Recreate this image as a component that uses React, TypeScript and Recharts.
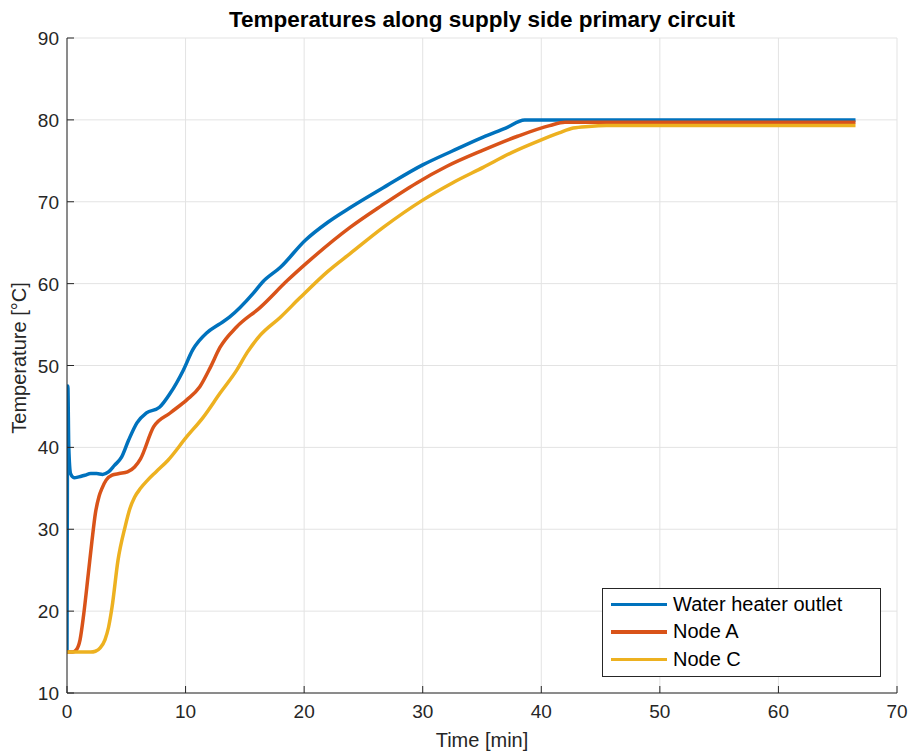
import React from 'react';
import { LineChart, Line, XAxis, YAxis, CartesianGrid, Legend } from 'recharts';

// time [min] and temperatures [°C]
const outletTime = [0, 0.07, 0.15, 0.3, 0.6, 1.0, 1.5, 2.0, 2.5, 3.0, 3.5, 4.0, 4.6, 5.2, 5.9, 6.7, 7.8, 8.7, 9.8, 10.6, 11.8, 12.8, 13.7, 15.7, 16.5, 18, 20.1, 22, 23.9, 27, 30, 32.5, 35.1, 37, 38.6, 45, 55, 66.5];
const outletTemp = [15, 47.5, 40, 36.8, 36.3, 36.4, 36.6, 36.8, 36.8, 36.7, 37.0, 37.8, 38.8, 40.9, 43, 44.2, 44.9, 46.6, 49.4, 51.9, 54, 55, 55.9, 58.8, 60.2, 62, 65.3, 67.5, 69.3, 72, 74.5, 76.2, 77.9, 79, 80, 80, 80, 80];

const nodeATime = [0, 0.5, 0.8, 1.1, 1.4, 1.8, 2.1, 2.4, 2.7, 2.95, 3.3, 3.8, 4.4, 5.1, 5.7, 6.2, 7.3, 8.7, 10.1, 11.2, 12.1, 12.9, 14.3, 16.3, 18.6, 20.2, 23.9, 26.5, 29.5, 32, 35.1, 38, 40.7, 42, 45, 55, 66.5];
const nodeATemp = [15, 15, 15.3, 16.5, 19.5, 24.6, 28.5, 32, 34, 35, 36, 36.6, 36.8, 37, 37.6, 38.6, 42.5, 44.2, 45.8, 47.4, 49.8, 52.2, 54.7, 57.1, 60.4, 62.5, 66.9, 69.5, 72.3, 74.3, 76.3, 78, 79.3, 79.7, 79.7, 79.7, 79.7];

const nodeCTime = [0, 1, 2, 2.4, 2.8, 3.2, 3.5, 3.8, 4.3, 4.9, 5.3, 5.7, 6.2, 6.8, 7.5, 8.5, 10.1, 11.5, 12.9, 14.3, 15.2, 16.3, 18.0, 19.6, 22, 23.9, 26.7, 30, 32.5, 35.1, 37.5, 39.9, 41.5, 42.7, 44, 45.5, 50, 60, 66.5];
const nodeCTemp = [15, 15, 15, 15.1, 15.5, 16.5, 18, 20.5, 26.2, 30.3, 32.5, 33.9, 35, 36, 37, 38.4, 41.3, 43.7, 46.6, 49.4, 51.6, 53.7, 55.9, 58.2, 61.5, 63.7, 66.9, 70.2, 72.3, 74.2, 76, 77.5, 78.4, 79, 79.2, 79.3, 79.3, 79.3, 79.3];

const xTicks = [0, 10, 20, 30, 40, 50, 60, 70];
const yTicks = [10, 20, 30, 40, 50, 60, 70, 80, 90];

const series = [
  { name: 'Water heater outlet', color: '#0072BD', t: outletTime, v: outletTemp },
  { name: 'Node A', color: '#D95319', t: nodeATime, v: nodeATemp },
  { name: 'Node C', color: '#EDB120', t: nodeCTime, v: nodeCTemp },
];

const FONT = '"Liberation Sans", Arial, Helvetica, sans-serif';
const INK = '#262626';
const TICK = 7;

const toRows = (t: number[], v: number[]) => t.map((x, i) => ({ t: x, v: v[i] }));

const BottomTick = ({ x, y, payload }: any) => (
  <g>
    <line x1={x} x2={x} y1={y} y2={y - TICK} stroke={INK} />
    <text x={x} y={y + 25} textAnchor="middle" fontSize={19} fontFamily={FONT} fill={INK}>
      {payload.value}
    </text>
  </g>
);

const TopTick = ({ x, y }: any) => <line x1={x} x2={x} y1={y} y2={y + TICK} stroke={INK} />;

const LeftTick = ({ x, y, payload }: any) => (
  <g>
    <line x1={x} x2={x + TICK} y1={y} y2={y} stroke={INK} />
    <text x={x - 8} y={y + 7} textAnchor="end" fontSize={19} fontFamily={FONT} fill={INK}>
      {payload.value}
    </text>
  </g>
);

const RightTick = ({ x, y }: any) => <line x1={x} x2={x - TICK} y1={y} y2={y} stroke={INK} />;

const LegendBox = () => (
  <div
    style={{
      boxSizing: 'border-box',
      border: `1px solid ${INK}`,
      background: '#fff',
      padding: '1.5px 0 0 8px',
      fontFamily: FONT,
      fontSize: 20,
      color: '#000',
      width: 279,
      height: 89,
    }}
  >
    {series.map((s) => (
      <div key={s.name} style={{ display: 'flex', alignItems: 'center', height: 27.5 }}>
        <span style={{ display: 'inline-block', width: 56, height: 3.5, background: s.color, marginRight: 6 }} />
        <span>{s.name}</span>
      </div>
    ))}
  </div>
);

export default function App() {
  return (
    <div style={{ position: 'absolute', left: 0, top: 0, width: 911, height: 756, background: '#fff' }}>
      <LineChart width={911} height={756} margin={{ top: 38, right: 14, bottom: 0, left: 0 }}>
        <CartesianGrid stroke="#e3e3e3" strokeWidth={1} xAxisId="b" yAxisId="l" />
        <XAxis
          xAxisId="b"
          type="number"
          dataKey="t"
          domain={[0, 70]}
          ticks={xTicks}
          allowDataOverflow
          height={63}
          tickSize={0}
          tickMargin={0}
          tickLine={false}
          axisLine={{ stroke: INK }}
          tick={<BottomTick />}
          interval={0}
        />
        <XAxis
          xAxisId="t"
          orientation="top"
          type="number"
          dataKey="t"
          domain={[0, 70]}
          ticks={xTicks}
          height={0}
          tickSize={0}
          tickMargin={0}
          tickLine={false}
          axisLine={{ stroke: INK }}
          tick={<TopTick />}
          interval={0}
        />
        <YAxis
          yAxisId="l"
          type="number"
          domain={[10, 90]}
          ticks={yTicks}
          width={67}
          tickSize={0}
          tickMargin={0}
          tickLine={false}
          axisLine={{ stroke: INK }}
          tick={<LeftTick />}
          interval={0}
        />
        <YAxis
          yAxisId="r"
          orientation="right"
          type="number"
          domain={[10, 90]}
          ticks={yTicks}
          width={0}
          tickSize={0}
          tickMargin={0}
          tickLine={false}
          axisLine={{ stroke: INK }}
          tick={<RightTick />}
          interval={0}
        />
        {series.map((s) => (
          <Line
            key={s.name}
            xAxisId="b"
            yAxisId="l"
            data={toRows(s.t, s.v)}
            dataKey="v"
            name={s.name}
            type="monotone"
            stroke={s.color}
            strokeWidth={3.5}
            dot={false}
            isAnimationActive={false}
          />
        ))}
        <Legend
          layout="vertical"
          align="center"
          verticalAlign="middle"
          content={<LegendBox />}
          wrapperStyle={{ position: 'absolute', left: 602, top: 588, width: 'auto', height: 'auto' }}
        />
      </LineChart>
      <svg
        width={911}
        height={756}
        style={{ position: 'absolute', left: 0, top: 0, pointerEvents: 'none' }}
      >
        <text x={482} y={27} textAnchor="middle" fontSize={22.5} fontWeight="bold" fontFamily={FONT} fill="#000">
          Temperatures along supply side primary circuit
        </text>
        <text x={482} y={747} textAnchor="middle" fontSize={20} fontFamily={FONT} fill={INK}>
          Time [min]
        </text>
        <text
          x={26}
          y={358}
          textAnchor="middle"
          fontSize={20}
          fontFamily={FONT}
          fill={INK}
          transform="rotate(-90 26 358)"
        >
          Temperature [°C]
        </text>
      </svg>
    </div>
  );
}
